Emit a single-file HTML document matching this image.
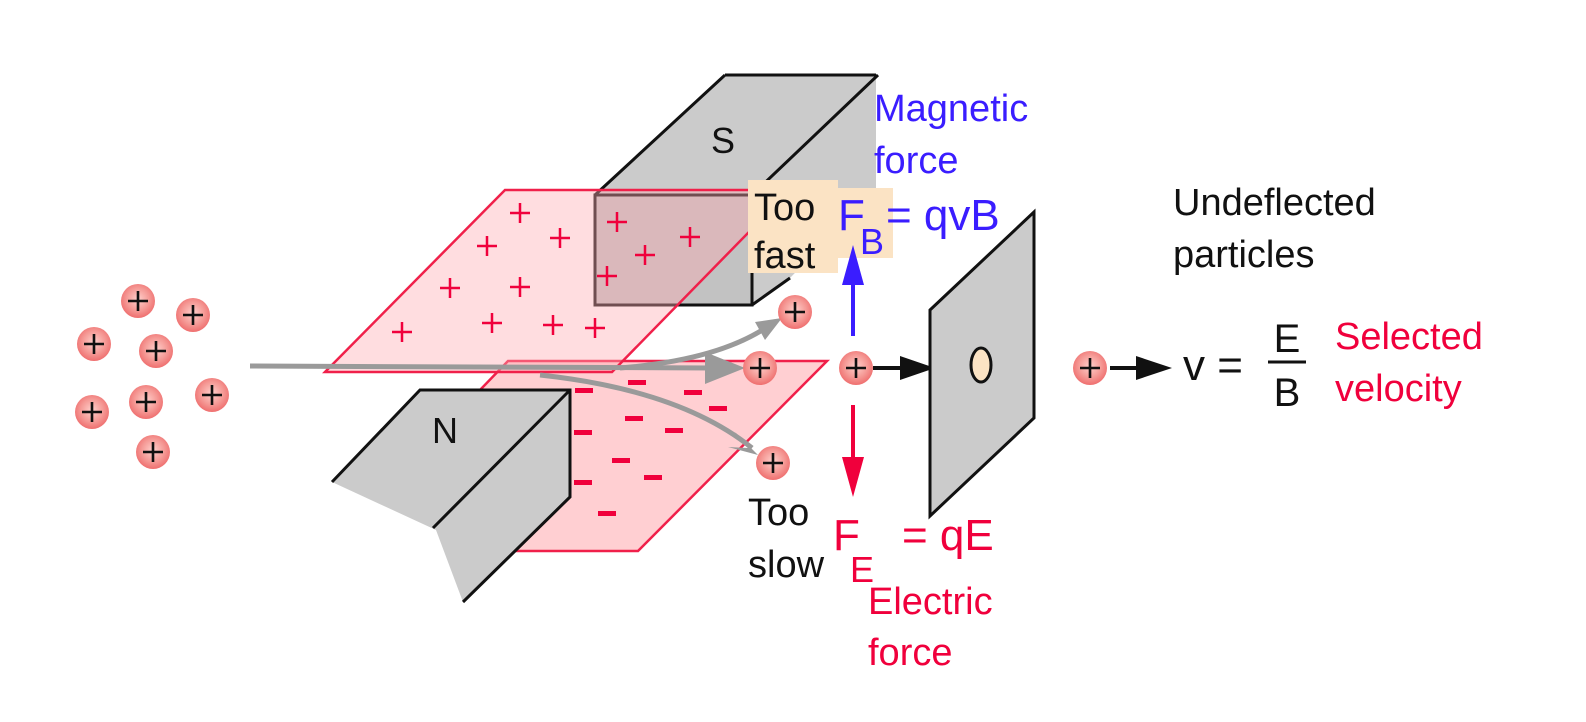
<!DOCTYPE html>
<html><head><meta charset="utf-8"><style>
html,body{margin:0;padding:0;background:#fff;}
svg{display:block;}
text{font-family:"Liberation Sans","DejaVu Sans",sans-serif;}
</style></head><body>
<svg width="1586" height="722" viewBox="0 0 1586 722" xmlns="http://www.w3.org/2000/svg">
<defs>
<radialGradient id="pg" cx="50%" cy="45%" r="55%">
<stop offset="0" stop-color="#ffd0cc"/><stop offset="0.6" stop-color="#f59a96"/><stop offset="1" stop-color="#ef6f6f"/>
</radialGradient>
<g id="p"><circle r="17" fill="url(#pg)"/><path d="M-10 0H10M0 -10V10" stroke="#111" stroke-width="2.6"/></g>
</defs>

<!-- lower plate -->
<polygon points="508,361 827,361 638,551 515,551 560,500 480,390" fill="#ffcfd2" stroke="#f0204a" stroke-width="2.5"/>
<g fill="#f0003c">
<rect x="575" y="388" width="18" height="5"/><rect x="628" y="380" width="18" height="5"/><rect x="684" y="390" width="18" height="5"/><rect x="709" y="406" width="18" height="5"/><rect x="625" y="416" width="18" height="5"/><rect x="574" y="430" width="18" height="5"/><rect x="665" y="428" width="18" height="5"/><rect x="612" y="458" width="18" height="5"/><rect x="644" y="475" width="18" height="5"/><rect x="574" y="480" width="18" height="5"/><rect x="598" y="511" width="18" height="5"/>
</g>

<!-- N magnet -->
<polygon points="420,390 570,390 570,497 463,602 436,530 332,482" fill="#cbcbcb"/>
<path d="M332,482 L420,390 L570,390 L570,497 L463,602 M570,390 L433,528" fill="none" stroke="#111" stroke-width="3"/>
<text x="445" y="443" font-size="36" text-anchor="middle" fill="#111">N</text>

<!-- S magnet -->
<polygon points="725,75 876,75 876,190 790,278 752,305 595,305 595,195" fill="#cbcbcb"/>
<path d="M725,75 L876,75 M725,75 L595,195 M878,75 L752,195 M752,305 L790,278" fill="none" stroke="#111" stroke-width="3"/>
<rect x="595" y="195" width="157" height="110" fill="#c2c2c2" stroke="#111" stroke-width="3"/>
<text x="723" y="153" font-size="36" text-anchor="middle" fill="#111">S</text>

<!-- upper plate -->
<polygon points="505,190 790,190 612,372 325,372" fill="rgba(255,170,178,0.4)" stroke="#f0204a" stroke-width="2.5"/>
<g stroke="#f0003c" stroke-width="2.5">
<path d="M510 213h20M520 203v20"/><path d="M607 222h20M617 212v20"/><path d="M550 238h20M560 228v20"/><path d="M477 246h20M487 236v20"/><path d="M680 237h20M690 227v20"/><path d="M635 255h20M645 245v20"/><path d="M597 276h20M607 266v20"/><path d="M440 288h20M450 278v20"/><path d="M510 287h20M520 277v20"/><path d="M392 332h20M402 322v20"/><path d="M482 323h20M492 313v20"/><path d="M543 325h20M553 315v20"/><path d="M585 328h20M595 318v20"/>
</g>

<!-- trajectories -->
<g stroke="#9a9a9a" stroke-width="5" fill="none">
<line x1="250" y1="366" x2="712" y2="368"/>
<path d="M620,368 Q720,360 770,325"/>
<path d="M540,375 Q680,390 752,448"/>
</g>
<polygon points="745,368 705,352 705,384" fill="#9a9a9a"/>
<polygon points="782,318 755,322 765,340" fill="#9a9a9a"/>
<polygon points="758,455 735,432 748,448 728,447" fill="#9a9a9a"/>

<!-- labels tan -->
<rect x="748" y="180" width="90" height="93" fill="#fbe3c4"/>
<rect x="838" y="188" width="55" height="70" fill="#fbe3c4"/>
<text x="754" y="220" font-size="38" fill="#111">Too</text>
<text x="754" y="268" font-size="38" fill="#111">fast</text>

<!-- particles -->
<use href="#p" x="138" y="301"/><use href="#p" x="193" y="315"/><use href="#p" x="94" y="344"/><use href="#p" x="156" y="351"/><use href="#p" x="212" y="395"/><use href="#p" x="146" y="402"/><use href="#p" x="92" y="412"/><use href="#p" x="153" y="452"/>
<use href="#p" x="795" y="312"/><use href="#p" x="760" y="368"/><use href="#p" x="773" y="463"/><use href="#p" x="856" y="368"/><use href="#p" x="1090" y="368"/>

<!-- force arrows -->
<line x1="853" y1="336" x2="853" y2="280" stroke="#3a1dff" stroke-width="4"/>
<polygon points="853,245 842,285 864,285" fill="#3a1dff"/>
<line x1="853" y1="405" x2="853" y2="460" stroke="#f0003c" stroke-width="4"/>
<polygon points="853,497 842,457 864,457" fill="#f0003c"/>

<!-- black arrows -->
<line x1="873" y1="368" x2="905" y2="368" stroke="#111" stroke-width="4"/>
<polygon points="935,368 900,356 900,380" fill="#111"/>
<line x1="1110" y1="368" x2="1140" y2="368" stroke="#111" stroke-width="4"/>
<polygon points="1172,368 1136,356 1136,380" fill="#111"/>

<!-- screen -->
<polygon points="930,310 1034,212 1034,418 930,516" fill="#cbcbcb" stroke="#111" stroke-width="3"/>
<ellipse cx="981" cy="365" rx="10" ry="17" fill="#fbe3c4" stroke="#111" stroke-width="3"/>

<!-- text -->
<text x="874" y="121" font-size="38" fill="#3a1dff">Magnetic</text>
<text x="874" y="173" font-size="38" fill="#3a1dff">force</text>
<text x="838" y="230" font-size="44" fill="#3a1dff">F</text>
<text x="860" y="254" font-size="36" fill="#3a1dff">B</text>
<text x="886" y="230" font-size="44" fill="#3a1dff">= qvB</text>

<text x="1173" y="215" font-size="38" fill="#111">Undeflected</text>
<text x="1173" y="267" font-size="38" fill="#111">particles</text>

<text x="1183" y="380" font-size="44" fill="#111">v =</text>
<text x="1287" y="352" font-size="40" fill="#111" text-anchor="middle">E</text>
<line x1="1268" y1="362" x2="1306" y2="362" stroke="#111" stroke-width="3"/>
<text x="1287" y="406" font-size="40" fill="#111" text-anchor="middle">B</text>
<text x="1335" y="349" font-size="38" fill="#f0003c">Selected</text>
<text x="1335" y="401" font-size="38" fill="#f0003c">velocity</text>

<text x="748" y="525" font-size="38" fill="#111">Too</text>
<text x="748" y="577" font-size="38" fill="#111">slow</text>
<text x="833" y="550" font-size="44" fill="#f0003c">F</text>
<text x="850" y="582" font-size="36" fill="#f0003c">E</text>
<text x="902" y="550" font-size="44" fill="#f0003c">= qE</text>
<text x="868" y="614" font-size="38" fill="#f0003c">Electric</text>
<text x="868" y="665" font-size="38" fill="#f0003c">force</text>
</svg>
</body></html>
